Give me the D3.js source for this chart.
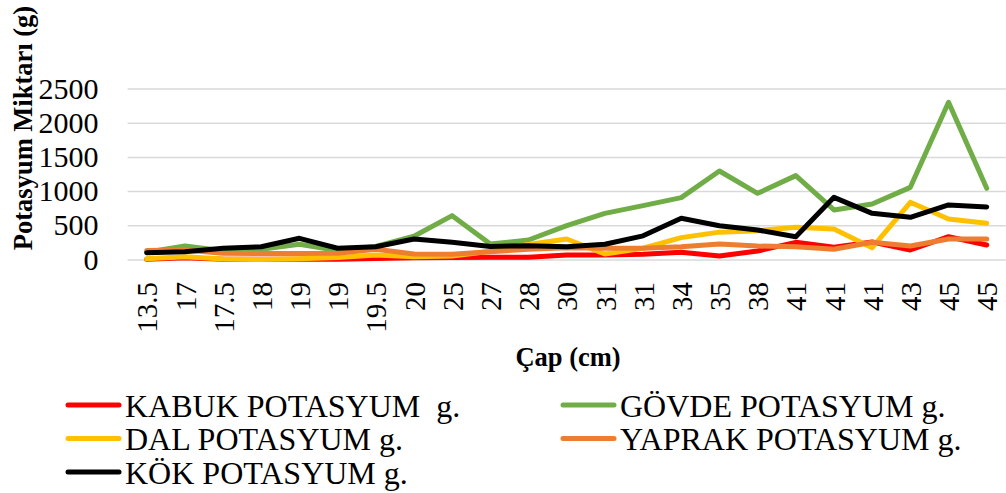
<!DOCTYPE html>
<html>
<head>
<meta charset="utf-8">
<script src="https://cdn.jsdelivr.net/npm/d3@7"></script>
<style>
    html, body { margin: 0; padding: 0; background: #fff; }
    #chart { width: 1006px; height: 493px; }
    svg text { font-family: "Liberation Serif", "Times New Roman", Times, serif !important; fill: #000; }
</style>
</head>
<body>
<div id="chart"></div>
<script>
///// DATOS /////
let categorias = ['13.5','17','17.5','18','19','19','19.5','20','25','27','28','30','31','31','34','35','38','41','41','41','43','45','45'];

let kabuk  = [3, 26, 5, 3, 3, 5, 15, 26, 30, 32, 32, 66, 66, 76, 105, 51, 124, 251, 178, 255, 139, 333, 212];
let govde  = [105, 197, 130, 150, 222, 130, 190, 340, 641, 225, 285, 494, 675, 787, 904, 1294, 967, 1226, 724, 811, 1055, 2298, 1041];
let dal    = [10, 40, 8, 0, 10, 30, 66, 40, 50, 120, 220, 300, 80, 164, 320, 400, 421, 470, 446, 173, 836, 592, 529];
let yaprak = [130, 140, 90, 88, 88, 90, 149, 80, 76, 114, 149, 173, 164, 164, 187, 227, 197, 187, 149, 251, 197, 300, 300];
let kok    = [100, 114, 164, 187, 310, 164, 187, 300, 251, 190, 202, 187, 222, 346, 602, 494, 431, 333, 909, 675, 617, 797, 768];

let yTicks = [0, 500, 1000, 1500, 2000, 2500];

let series = [
    {nombre: 'KABUK POTASYUM  g.', valores: kabuk, color: '#FF0000'},
    {nombre: 'GÖVDE POTASYUM g.', valores: govde, color: '#70AD47'},
    {nombre: 'DAL POTASYUM g.', valores: dal, color: '#FFC000'},
    {nombre: 'YAPRAK POTASYUM g.', valores: yaprak, color: '#ED7D31'},
    {nombre: 'KÖK POTASYUM g.', valores: kok, color: '#000000'}
];

///// GRÁFICO /////
let fuente = '"Liberation Serif", "Times New Roman", Times, serif';
let chartBlock = d3.select('#chart');
let width = 1006, height = 493;
let plot = {left: 127.6, right: 1005.8, top: 88.5, bottom: 259.5};

let svg = chartBlock.append('svg')
    .attr('width', width)
    .attr('height', height)
    .style('font-family', fuente);

//Eje X (índices, porque hay categorías repetidas)
let x_c = d3.scalePoint()
    .domain(categorias.map(function(d, i) { return i; }))
    .range([plot.left, plot.right])
    .padding(0.5);

let y_c = d3.scaleLinear()
    .domain([0, 2500])
    .range([plot.bottom, plot.top]);

//Rejilla + eje Y
svg.append('g')
    .attr('transform', 'translate(' + plot.left + ',0)')
    .call(d3.axisLeft(y_c).tickValues(yTicks).tickFormat(d3.format('d')).tickSize(-(plot.right - plot.left)).tickPadding(29))
    .call(function(g) { g.attr('font-family', null).attr('font-size', null); })
    .call(function(g) { g.select('.domain').remove(); })
    .call(function(g) {
        g.selectAll('.tick line').attr('stroke', '#d9d9d9').attr('stroke-width', 1.5);
        g.selectAll('.tick text')
            .style('font-size', '30px')
            .style('font-family', fuente);
    });

//Eje X
svg.append('g')
    .attr('transform', 'translate(0,' + plot.bottom + ')')
    .call(d3.axisBottom(x_c).tickSize(0).tickFormat(function(i) { return categorias[i]; }))
    .call(function(g) { g.attr('font-family', null).attr('font-size', null); })
    .call(function(g) { g.select('.domain').remove(); })
    .call(function(g) {
        g.selectAll('.tick text')
            .attr('transform', 'rotate(-90)')
            .attr('text-anchor', 'end')
            .attr('x', -22.5)
            .attr('y', 0)
            .attr('dy', '0.35em')
            .style('font-size', '29px')
            .style('font-family', fuente);
    });

//Líneas
let linea = d3.line()
    .x(function(d, i) { return x_c(i); })
    .y(function(d) { return y_c(d); });

svg.append('g')
    .selectAll('path')
    .data(series)
    .enter()
    .append('path')
    .attr('d', function(d) { return linea(d.valores); })
    .attr('fill', 'none')
    .attr('stroke', function(d) { return d.color; })
    .attr('stroke-width', 5)
    .attr('stroke-linejoin', 'round')
    .attr('stroke-linecap', 'round');

//Títulos de ejes
svg.append('text')
    .attr('transform', 'translate(32,128) rotate(-90)')
    .attr('text-anchor', 'middle')
    .style('font-size', '26.5px')
    .style('font-weight', 'bold')
    .text('Potasyum Miktarı (g)');

svg.append('text')
    .attr('x', 568)
    .attr('y', 366)
    .attr('text-anchor', 'middle')
    .style('font-size', '26.5px')
    .style('font-weight', 'bold')
    .text('Çap (cm)');

//Leyenda
let colX = [66, 561];
let filaY = [405, 438.5, 472];

let leyenda = svg.append('g')
    .selectAll('g')
    .data(series)
    .enter()
    .append('g')
    .attr('transform', function(d, i) {
        return 'translate(' + colX[i % 2] + ',' + filaY[Math.floor(i / 2)] + ')';
    });

leyenda.append('line')
    .attr('x1', 2).attr('x2', 53)
    .attr('y1', 0).attr('y2', 0)
    .attr('stroke', function(d) { return d.color; })
    .attr('stroke-width', 5)
    .attr('stroke-linecap', 'round');

leyenda.append('text')
    .attr('x', 59)
    .attr('y', 11.5)
    .style('font-size', '32px')
    .style('white-space', 'pre')
    .text(function(d) { return d.nombre; });
</script>
</body>
</html>
